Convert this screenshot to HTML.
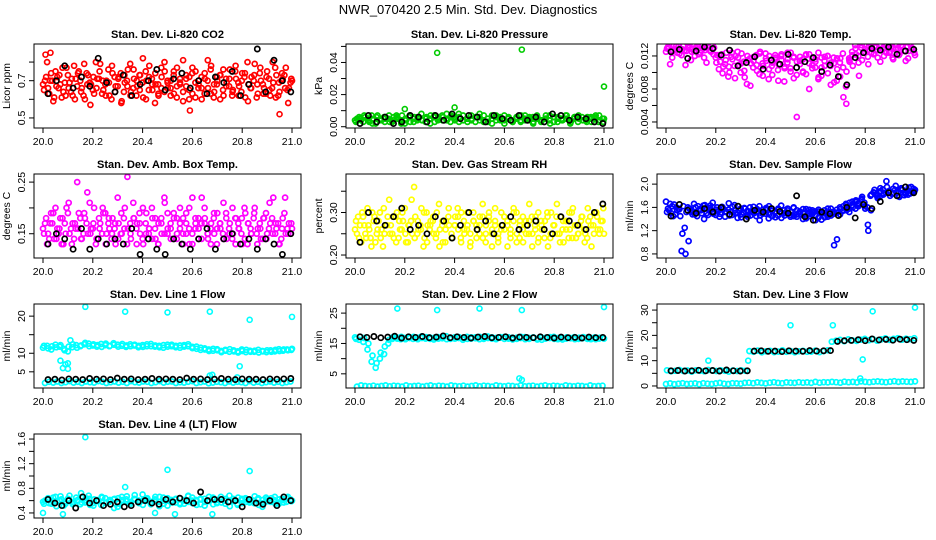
<!DOCTYPE html>
<html><head><meta charset="utf-8"><style>
html,body{margin:0;padding:0;background:#fff;}
svg{display:block;font-family:"Liberation Sans",Arial,sans-serif;}
</style></head><body>
<svg id="chart" width="936" height="540" viewBox="0 0 936 540">
<rect x="0" y="0" width="936" height="540" fill="#fff"/>
<text x="468" y="14" text-anchor="middle" font-size="13">NWR_070420  2.5 Min. Std. Dev. Diagnostics</text>
</svg>
<script>
const xTicks=[20.0,20.2,20.4,20.6,20.8,21.0];
const xTickLabels=["20.0","20.2","20.4","20.6","20.8","21.0"];

const co2Red1=[.68,.72,.63,.70,.75,.66,.61,.69,.73,.64,.78,.67,.70,.62,.74,.69,.65,.80,.71,.63,.68,.76,.60,.72,.67,.74,.64,.70,.79,.66,.62,.73,.69,.75,.65,.71,.58,.68,.77,.64,.70,.66,.73,.61,.69,.81,.67,.72,.63,.75,.68,.60,.71,.66,.78,.64,.70,.73,.62,.69,.76,.65,.71,.67,.74,.61,.68,.72,.79,.63,.70,.66,.75,.62,.69,.73,.64,.71,.77,.66,.70];
const co2Red2=[.65,.80,.70,.59,.67,.73,.77,.62,.66,.71,.60,.74,.64,.79,.68,.57,.72,.66,.75,.70,.62,.69,.78,.64,.71,.58,.73,.67,.62,.76,.70,.65,.82,.60,.72,.68,.74,.63,.66,.80,.69,.62,.75,.67,.71,.59,.73,.65,.77,.61,.70,.66,.74,.81,.63,.68,.72,.60,.76,.67,.71,.64,.78,.62,.70,.74,.59,.66,.73,.68,.77,.63,.72,.65,.80,.61,.69,.74,.66,.58,.71];
const co2Red3=[.70,.66,.74,.61,.72,.68,.64,.77,.69,.62,.71,.75,.66,.60,.73,.68,.63,.71,.79,.65,.70,.62,.74,.67,.72,.59,.69,.76,.64,.71,.67,.73,.61,.70,.78,.65,.68,.62,.72,.75,.66,.70,.63,.77,.68,.64,.71,.60,.74,.69,.66,.72,.63,.70,.76,.61,.68,.73,.65,.71,.67,.62,.75,.69,.64,.72,.80,.66,.70,.61,.74,.68,.63,.71,.66,.77,.62,.70,.73,.65,.69];
const co2Black=[.63,.70,.78,.66,.72,.67,.82,.69,.64,.73,.62,.68,.70,.76,.65,.71,.74,.66,.70,.63,.72,.69,.75,.62,.68,.87,.64,.81,.70,.64];
const co2OutT=[20.01,20.03,20.33,20.67,21.0,20.59,20.95];
const co2OutV=[.84,.85,.43,.43,.42,.54,.52];

const presGreen1=[.004,.006,.003,.005,.007,.002,.004,.006,.005,.003,.007,.004,.002,.006,.005,.004,.008,.003,.005,.006,.004,.007,.005,.003,.006,.008,.004,.005,.007,.003,.006,.004,.005,.002,.007,.005,.004,.006,.003,.005,.007,.004,.006,.003,.005,.004,.007,.002,.006,.005,.004,.007,.003,.006,.005,.004,.006,.003,.007,.004,.005];
const presGreen2=[.003,.005,.007,.004,.002,.006,.005,.003,.007,.004,.006,.002,.005,.007,.003,.006,.004,.005,.002,.007,.006,.004,.008,.006,.004,.003,.007,.005,.004,.006,.008,.003,.005,.007,.004,.006,.002,.005,.003,.006,.004,.007,.005,.002,.006,.004,.005,.007,.003,.006,.004,.005,.002,.006,.007,.004,.003,.006,.005,.007,.003];
const presGreen3=[.005,.004,.006,.003,.005,.007,.004,.005,.003,.006,.005,.007,.004,.003,.006,.005,.004,.006,.007,.003,.005,.006,.004,.007,.005,.006,.004,.003,.005,.006,.004,.007,.003,.005,.006,.004,.007,.005,.004,.006,.003,.005,.004,.006,.007,.003,.005,.004,.006,.003,.005,.007,.004,.005,.003,.006,.004,.005,.006,.003,.005];
const presBlack=[.002,.007,.003,.006,.002,.003,.007,.006,.003,.007,.004,.008,.005,.007,.006,.003,.007,.005,.004,.007,.004,.006,.003,.008,.007,.004,.006,.005,.003,.002];
const presOutT=[20.33,20.67,21.0,20.4,20.2];
const presOutV=[.046,.048,.025,.012,.011];

const tempMag1=[.0125,.0130,.0118,.0128,.0132,.0121,.0127,.0130,.0115,.0126,.0131,.0124,.0129,.0112,.0127,.0133,.0118,.0104,.0122,.0110,.0095,.0119,.0108,.0125,.0100,.0113,.0086,.0117,.0106,.0121,.0098,.0111,.0123,.0092,.0108,.0116,.0103,.0120,.0089,.0112,.0105,.0118,.0097,.0114,.0101,.0122,.0080,.0109,.0116,.0094,.0106,.0119,.0099,.0112,.0088,.0104,.0117,.0070,.0101,.0113,.0108,.0122,.0096,.0115,.0128,.0110,.0124,.0131,.0118,.0127,.0120,.0133,.0125,.0116,.0129,.0122,.0131,.0114,.0126,.0130,.0121];
const tempMag2=[.0129,.0110,.0126,.0132,.0123,.0128,.0109,.0131,.0125,.0120,.0133,.0127,.0118,.0130,.0126,.0122,.0112,.0121,.0099,.0115,.0107,.0124,.0093,.0118,.0111,.0102,.0120,.0084,.0114,.0109,.0123,.0096,.0117,.0104,.0112,.0121,.0090,.0115,.0107,.0124,.0101,.0119,.0046,.0110,.0116,.0098,.0122,.0105,.0113,.0092,.0118,.0108,.0120,.0085,.0111,.0117,.0095,.0106,.0062,.0115,.0121,.0129,.0112,.0133,.0125,.0119,.0131,.0123,.0127,.0113,.0130,.0124,.0132,.0118,.0128,.0121,.0133,.0126,.0117,.0129,.0124];
const tempMag3=[.0131,.0127,.0133,.0124,.0129,.0132,.0126,.0133,.0128,.0130,.0122,.0133,.0127,.0131,.0125,.0130,.0121,.0113,.0107,.0124,.0100,.0116,.0120,.0109,.0123,.0094,.0115,.0111,.0119,.0102,.0125,.0108,.0114,.0120,.0097,.0118,.0110,.0122,.0105,.0116,.0124,.0093,.0113,.0119,.0100,.0121,.0111,.0117,.0106,.0124,.0096,.0114,.0120,.0108,.0118,.0090,.0112,.0123,.0083,.0117,.0125,.0133,.0120,.0130,.0134,.0127,.0133,.0122,.0131,.0134,.0128,.0133,.0124,.0132,.0134,.0129,.0133,.0126,.0131,.0134,.0128];
const tempBlack=[.0125,.0128,.0117,.0126,.0131,.0129,.0121,.0127,.0108,.0112,.0119,.0104,.0115,.0110,.0122,.0106,.0113,.0118,.0101,.0109,.0095,.0085,.0118,.0124,.0129,.0127,.0131,.0122,.0126,.0128];

const ambMag1=[.16,.18,.14,.17,.20,.15,.13,.17,.19,.16,.14,.25,.18,.15,.17,.21,.16,.13,.18,.15,.19,.17,.14,.16,.22,.15,.18,.13,.17,.21,.16,.19,.14,.17,.15,.20,.16,.13,.18,.22,.15,.17,.19,.14,.16,.18,.15,.20,.13,.17,.16,.22,.18,.14,.17,.15,.19,.16,.21,.14,.17,.15,.18,.16,.13,.19,.17,.15,.20,.16,.14,.18,.15,.17,.22,.16,.13,.18,.15,.17,.16];
const ambMag2=[.15,.13,.17,.19,.14,.16,.18,.15,.21,.13,.17,.16,.14,.19,.23,.15,.17,.14,.16,.20,.13,.18,.15,.17,.14,.19,.16,.26,.15,.18,.13,.17,.20,.15,.16,.14,.18,.13,.17,.15,.19,.16,.14,.18,.20,.15,.17,.13,.22,.16,.18,.14,.17,.15,.13,.19,.16,.17,.14,.18,.15,.20,.13,.16,.18,.14,.17,.15,.19,.13,.16,.18,.14,.21,.15,.17,.13,.16,.22,.15,.17];
const ambMag3=[.17,.15,.19,.14,.16,.18,.13,.20,.15,.17,.16,.19,.14,.18,.15,.16,.20,.14,.17,.19,.15,.16,.18,.13,.17,.15,.20,.16,.14,.18,.17,.15,.13,.19,.16,.18,.14,.17,.15,.21,.16,.14,.18,.15,.17,.13,.19,.16,.15,.18,.14,.17,.20,.15,.16,.18,.13,.17,.15,.19,.16,.14,.18,.17,.15,.20,.13,.16,.18,.15,.17,.14,.19,.16,.18,.15,.17,.14,.19,.16,.15];
const ambBlack=[.13,.15,.14,.12,.16,.12,.14,.13,.14,.13,.16,.11,.14,.12,.11,.14,.13,.12,.14,.16,.12,.14,.15,.13,.14,.12,.14,.13,.11,.15];

const rhYel1=[.26,.29,.23,.27,.31,.24,.28,.25,.30,.22,.27,.33,.25,.29,.24,.26,.31,.23,.28,.36,.25,.27,.22,.30,.26,.28,.24,.32,.27,.23,.29,.25,.27,.31,.24,.28,.26,.22,.30,.27,.25,.29,.23,.28,.26,.31,.24,.27,.29,.22,.26,.30,.25,.28,.23,.27,.32,.25,.29,.24,.26,.28,.22,.30,.27,.25,.29,.23,.28,.26,.31,.24,.27,.29,.25,.28,.22,.30,.26,.28,.25];
const rhYel2=[.28,.24,.30,.25,.27,.22,.29,.26,.24,.31,.27,.25,.29,.23,.28,.30,.25,.27,.33,.24,.28,.26,.30,.23,.27,.29,.25,.22,.28,.26,.31,.24,.27,.29,.23,.26,.30,.25,.28,.24,.27,.32,.25,.29,.22,.27,.25,.30,.26,.28,.24,.31,.23,.27,.29,.25,.28,.22,.26,.30,.27,.24,.29,.25,.27,.32,.23,.28,.26,.30,.24,.27,.25,.29,.23,.31,.27,.25,.29,.26,.31];
const rhYel3=[.25,.27,.29,.24,.26,.30,.23,.28,.26,.25,.29,.27,.24,.30,.26,.28,.23,.27,.25,.29,.26,.31,.24,.27,.28,.25,.30,.26,.23,.28,.27,.24,.29,.26,.30,.25,.27,.23,.28,.26,.29,.24,.27,.30,.25,.28,.23,.26,.29,.27,.25,.28,.30,.24,.26,.28,.25,.29,.27,.23,.28,.26,.30,.24,.27,.29,.25,.26,.28,.24,.30,.27,.25,.28,.26,.24,.29,.27,.30,.25,.28];
const rhBlack=[.23,.30,.28,.27,.29,.31,.26,.27,.25,.29,.28,.24,.27,.30,.26,.28,.25,.27,.29,.26,.27,.28,.26,.25,.29,.28,.27,.26,.30,.32];

const flowBlue1=[1.70,1.55,1.62,1.48,1.58,0.85,1.25,1.60,1.52,1.66,1.45,1.57,1.63,1.50,1.59,1.68,1.47,1.55,1.61,1.44,1.56,1.53,1.64,1.42,1.58,1.51,1.47,1.60,1.54,1.45,1.62,1.49,1.56,1.41,1.58,1.52,1.46,1.63,1.50,1.55,1.44,1.59,1.48,1.53,1.40,1.57,1.45,1.52,1.38,1.56,1.49,1.43,1.58,1.46,0.95,1.51,1.57,1.62,1.55,1.68,1.60,1.72,1.65,1.78,1.58,1.20,1.82,1.90,1.76,1.88,1.84,1.95,1.80,1.92,1.86,1.78,1.90,1.83,1.94,1.87,1.90];
const flowBlue2=[1.52,1.66,1.45,1.60,1.57,1.15,0.80,1.02,1.54,1.48,1.62,1.55,1.40,1.58,1.63,1.49,1.56,1.44,1.60,1.52,1.67,1.47,1.55,1.50,1.43,1.59,1.54,1.46,1.61,1.52,1.38,1.56,1.49,1.62,1.45,1.53,1.58,1.42,1.55,1.50,1.47,1.60,1.44,1.52,1.57,1.41,1.49,1.55,1.46,1.53,1.39,1.50,1.44,1.58,1.52,1.05,1.48,1.55,1.64,1.52,1.70,1.58,1.67,1.75,1.62,1.30,1.55,1.85,1.79,1.93,1.82,2.05,1.88,1.84,1.97,1.80,1.91,1.86,1.82,1.95,1.88];
const flowBlue3=[1.58,1.50,1.65,1.55,1.45,1.62,1.52,1.58,1.48,1.60,1.55,1.50,1.64,1.47,1.56,1.52,1.60,1.49,1.57,1.53,1.46,1.61,1.50,1.55,1.48,1.58,1.44,1.53,1.50,1.57,1.46,1.52,1.59,1.48,1.54,1.43,1.56,1.50,1.46,1.58,1.52,1.45,1.55,1.49,1.51,1.44,1.56,1.48,1.53,1.42,1.50,1.55,1.47,1.52,1.49,1.56,1.60,1.54,1.66,1.58,1.64,1.70,1.62,1.73,1.68,1.60,1.80,1.86,1.82,1.78,1.91,1.85,1.88,1.83,1.90,1.86,1.93,1.81,1.88,1.84,1.92];
const flowBlack=[1.45,1.65,1.55,1.50,1.58,1.52,1.60,1.48,1.62,1.40,1.55,1.52,1.58,1.53,1.50,1.80,1.44,1.38,1.52,1.49,1.46,1.60,1.42,1.65,1.58,1.70,1.85,1.80,1.95,1.85];

const l1Upper=[11.5,12,11,12.3,11.8,11.2,10.5,11.6,12.2,11.9,12.4,12.6,12.1,11.8,12.5,12.2,11.9,12.7,12.3,12.0,11.7,12.4,12.1,11.6,12.2,11.9,12.5,11.8,12.0,11.5,12.3,11.9,11.6,12.1,11.8,12.4,11.7,11.2,11.5,11.0,10.6,11.2,10.8,10.3,10.7,11.1,10.5,10.2,10.6,10.9,10.4,10.7,10.2,10.5,10.8,10.4,10.9,10.6,11.0,10.8,11.2];
const l1Upper2=[12.0,11.3,11.9,11.6,12.2,10.8,11.8,12.4,11.5,12.1,12.8,11.9,12.4,12.2,11.7,12.6,12.0,12.3,11.8,12.5,12.1,11.9,12.3,12.0,11.7,12.4,11.9,12.1,11.6,12.2,11.8,12.3,12.0,11.5,12.2,11.9,11.4,11.8,10.9,11.3,11.0,10.7,11.1,10.6,10.9,10.4,10.8,10.5,11.0,10.3,10.7,10.4,10.9,10.6,10.3,10.8,10.5,11.1,10.7,11.0,10.9];
const l1Lower=[2.0,2.3,2.1,2.4,2.0,2.2,2.5,2.1,2.3,2.0,2.4,2.2,2.1,2.5,2.3,2.0,2.2,2.4,2.1,2.3,2.0,2.5,2.2,2.1,2.4,2.3,2.0,2.2,2.5,2.1,2.3,2.4,2.0,2.2,2.1,2.3,2.5,2.0,2.2,2.4,1.9,2.1,2.3,2.2,2.0,2.4,2.1,2.3,2.2,2.0,2.5,2.1,2.3,2.0,2.2,2.4,2.1,2.3,2.0,2.2,2.4];
const l1Black=[2.9,3.0,2.8,3.1,3.0,2.9,3.2,3.0,3.1,2.9,3.3,3.0,3.1,2.9,3.0,3.2,3.0,3.1,3.0,2.9,3.3,3.0,3.1,2.9,3.0,3.2,3.0,2.9,3.1,3.0,3.0,2.9,3.1,3.0,3.1,3.2];
const l1OutT=[20.07,20.08,20.09,20.1,20.1,20.11,20.17,20.33,20.5,20.67,20.67,20.68,20.79,20.78,20.83,21.0];
const l1OutV=[8,6,7,5.8,7.3,13.5,22.5,21.2,21,21.2,4,4.2,6.5,3.5,19,19.8];

const l2Upper=[17,16.2,15.5,13,9,7,10,11.5,15,16.5,17,16.4,16.8,17.2,16.5,16.9,17.3,16.6,17,16.3,17.1,16.7,17.4,16.5,17,16.8,16.2,17.2,16.6,17,16.4,16.9,17.3,16.6,16.8,17.1,16.5,17,16.3,16.9,17.2,16.4,16.8,17,16.6,16.2,16.9,17.1,16.5,16.8,16.3,17,16.7,16.4,16.9,17.1,16.5,16.8,16.4,16.9,16.6];
const l2Upper2=[16.5,17.2,16.8,15,11,8.5,12,14,16.2,17.1,16.6,17.2,16.4,16.8,17.2,16.4,16.8,17.1,16.5,16.9,16.6,17.2,16.4,16.9,16.6,17.1,16.8,16.5,17.0,16.7,17.2,16.5,16.8,17.0,16.4,16.9,17.2,16.6,16.9,16.5,16.8,17.1,16.5,16.9,16.3,17.0,16.6,16.8,17.2,16.4,16.9,16.6,16.8,17.1,16.5,16.7,16.9,16.4,17.0,16.6,16.8];
const l2Lower=[0.8,1.2,1.0,0.9,1.1,0.8,1.0,1.2,0.9,1.1,1.0,0.8,1.2,0.9,1.0,1.1,0.8,1.0,1.2,0.9,1.1,1.0,0.8,1.2,1.0,0.9,1.1,0.8,1.0,1.2,0.9,1.1,1.0,0.8,1.2,1.0,0.9,1.1,1.0,0.8,1.2,0.9,1.0,1.1,0.8,1.0,1.2,0.9,1.1,1.0,0.8,1.2,1.0,0.9,1.1,1.0,0.8,1.2,0.9,1.0,1.1];
const l2Black=[17.2,17.0,17.3,16.9,17.1,17.4,16.8,17.2,17.0,17.3,16.9,17.1,17.5,16.9,17.2,17.0,16.8,17.1,17.3,16.9,17.0,17.2,16.8,17.1,17.0,16.9,17.2,17.0,16.8,17.1,16.9,17.0,16.8,17.1,16.9,17.0];
const l2OutT=[20.17,20.33,20.5,20.67,21.0,20.66,20.67];
const l2OutV=[26.5,26,26.5,26,27,3.5,3];

const l3Lower=[0.8,1.0,0.7,0.9,1.1,0.8,0.9,1.0,0.7,1.1,0.9,0.8,1.0,1.2,0.9,0.8,1.1,1.0,0.9,1.2,1.3,1.1,1.4,1.2,1.0,1.3,1.5,1.2,1.1,1.4,1.3,1.2,1.5,1.3,1.4,1.2,1.6,1.3,1.5,1.4,1.6,1.5,1.3,1.7,1.5,1.6,1.4,1.8,1.6,1.5,1.7,1.8,1.6,1.5,1.7,1.9,1.6,1.8,1.7,1.6,1.8];
const l3Upper=[6.2,5.8,6.0,6.3,5.9,6.1,5.7,6.2,6.0,5.8,6.3,6.1,5.9,6.2,6.0,5.7,6.1,5.9,6.2,6.0,13.8,13.5,14.0,13.3,13.7,13.9,13.4,13.6,14.1,13.5,13.8,13.3,13.7,13.9,13.5,13.6,14.0,13.4,13.8,14.1,17.5,17.9,18.2,17.7,18.4,18.0,17.8,18.3,18.6,18.1,18.5,17.9,18.4,18.8,18.2,18.6,18.9,18.3,18.7,18.5,18.9];
const l3Black=[6.0,6.1,5.9,6.0,6.2,6.0,6.1,5.9,6.3,6.0,5.9,6.0,13.8,13.9,13.7,13.8,13.6,13.9,13.8,13.7,14.0,13.8,13.9,14.0,17.6,17.9,18.0,18.3,17.9,18.6,18.2,18.4,18.1,18.5,18.3,18.0];
const l3OutT=[20.17,20.33,20.5,20.67,20.79,20.78,20.83,21.0];
const l3OutV=[10,10,24,24,10.5,3,29.5,31];

const l4Cyan1=[.58,.62,.55,.66,.60,.52,.63,.57,.65,.54,.60,.68,.56,.61,.53,.64,.58,.62,.50,.66,.59,.55,.63,.57,.70,.60,.54,.62,.58,.65,.52,.61,.57,.64,.55,.68,.60,.53,.62,.58,.66,.54,.61,.57,.63,.51,.60,.65,.56,.62,.58,.67,.53,.61,.59,.64,.55,.62,.57,.66,.60];
const l4Cyan2=[.55,.64,.60,.51,.67,.58,.62,.54,.60,.72,.57,.63,.52,.59,.66,.56,.61,.48,.64,.58,.62,.55,.69,.60,.53,.63,.58,.66,.51,.60,.64,.57,.62,.54,.61,.67,.56,.59,.63,.52,.60,.65,.57,.62,.55,.68,.59,.53,.63,.58,.61,.56,.64,.50,.62,.58,.66,.55,.61,.64,.59];
const l4Cyan3=[.60,.56,.65,.59,.62,.55,.68,.58,.61,.57,.64,.53,.62,.59,.65,.57,.60,.63,.55,.61,.67,.58,.62,.56,.60,.64,.57,.61,.66,.55,.62,.59,.63,.56,.60,.58,.65,.61,.54,.63,.59,.62,.56,.66,.60,.58,.63,.55,.61,.64,.57,.60,.62,.56,.65,.59,.61,.57,.63,.58,.62];
const l4Black=[.62,.56,.52,.60,.48,.66,.56,.60,.52,.54,.58,.50,.52,.58,.60,.56,.54,.62,.58,.64,.60,.56,.74,.60,.62,.62,.58,.60,.50,.62,.56,.54,.60,.52,.66,.60];
const l4OutT=[20.17,20.5,20.83,20.33,20.0,20.08,20.45,20.53,20.68];
const l4OutV=[1.63,1.1,1.08,.82,.4,.38,.4,.38,.38];

const NS="http://www.w3.org/2000/svg";
const svg=document.getElementById('chart');
function mk(tag,attrs,parent){const e=document.createElementNS(NS,tag);for(const k in attrs)e.setAttribute(k,attrs[k]);(parent||svg).appendChild(e);return e;}

const colX=[34,346,657], rowY=[44,174,304,434], W=267, H=84;

function panel(o){
  const L=colX[o.col],T=rowY[o.row];
  const g=mk('g',{});
  
  
  const xs=t=>L+9+(t-20)*(W-18);
  const ys=v=>T+H-(v-o.y0)/(o.y1-o.y0)*H;
  const clip='c'+o.name;
  const cp=mk('clipPath',{id:clip},g);mk('rect',{x:L,y:T,width:W,height:H},cp);
  const pg=mk('g',{'clip-path':'url(#'+clip+')'},g);
  function series(vals,color,r,sw,t0,t1,nm){
    const sg=mk('g',{},pg);
    
    
    vals.forEach((v,i)=>{const t=t0+(t1-t0)*i/(vals.length-1);
      const c=mk('circle',{cx:xs(t).toFixed(1),cy:ys(v).toFixed(1),r:r,fill:'none',stroke:color,'stroke-width':sw},sg);
      
      });
  }
  o.color_series.forEach((s,k)=>series(s,o.color,2.5,1.7,20+k*0.004,21-k*0.003,'colored-series'));
  if(o.outT){const sg=mk('g',{},pg);
    
    
    o.outT.forEach((t,i)=>{const c=mk('circle',{cx:xs(t),cy:ys(o.outV[i]),r:2.5,fill:'none',stroke:o.color,'stroke-width':1.6},sg);
      
      });}
  series(o.black,'#000',2.6,1.7,20.02,20.995,'black-series');
  const box=mk('rect',{x:L,y:T,width:W,height:H,fill:'none',stroke:'#000','stroke-width':1},g);
  
  
  const xa=mk('g',{},g);
  
  
  xTicks.forEach((t,i)=>{mk('line',{x1:xs(t),x2:xs(t),y1:T+H,y2:T+H+5,stroke:'#000'},xa);
    const tx=mk('text',{x:xs(t),y:T+H+17,'text-anchor':'middle','font-size':10.5},xa);tx.textContent=xTickLabels[i];
    
    });
  const ya=mk('g',{},g);
  
  
  o.yt.forEach(v=>{mk('line',{x1:L-5,x2:L,y1:ys(v),y2:ys(v),stroke:'#000'},ya);});
  o.yl.forEach((lab,i)=>{const y=ys(o.ylv[i]);const tx=mk('text',{x:L-9,y:y,'text-anchor':'middle','font-size':10.5,transform:'rotate(-90 '+(L-9)+' '+y+')'},ya);tx.textContent=lab;
    
    });
  const yt=mk('text',{x:L-24,y:T+H/2,'text-anchor':'middle','font-size':10.5,transform:'rotate(-90 '+(L-24)+' '+(T+H/2)+')'},g);yt.textContent=o.ylab;
  
  
  const ti=mk('text',{x:L+W/2,y:T-6,'text-anchor':'middle','font-size':11,'font-weight':'bold'},g);ti.textContent=o.title;
  
  
}

panel({name:'co2-panel',col:0,row:0,title:'Stan. Dev. Li-820 CO2',ylab:'Licor ppm',color:'#ff0000',y0:.446,y1:.897,yt:[.5,.6,.7,.8],yl:['0.5','0.7'],ylv:[.5,.7],color_series:[co2Red1,co2Red2,co2Red3],black:co2Black,outT:co2OutT,outV:co2OutV});
panel({name:'pressure-panel',col:1,row:0,title:'Stan. Dev. Li-820 Pressure',ylab:'kPa',color:'#00cc00',y0:-.0008,y1:.0515,yt:[0,.01,.02,.03,.04,.05],yl:['0.00','0.02','0.04'],ylv:[0,.02,.04],color_series:[presGreen1,presGreen2,presGreen3],black:presBlack,outT:presOutT,outV:presOutV});
panel({name:'li820-temp-panel',col:2,row:0,title:'Stan. Dev. Li-820 Temp.',ylab:'degrees C',color:'#ff00ff',y0:.00327,y1:.01345,yt:[.004,.006,.008,.010,.012],yl:['0.004','0.008','0.012'],ylv:[.004,.008,.012],color_series:[tempMag1,tempMag2,tempMag3],black:tempBlack});
panel({name:'amb-box-temp-panel',col:0,row:1,title:'Stan. Dev. Amb. Box Temp.',ylab:'degrees C',color:'#ff00ff',y0:.103,y1:.2657,yt:[.15,.2,.25],yl:['0.15','0.25'],ylv:[.15,.25],color_series:[ambMag1,ambMag2,ambMag3],black:ambBlack});
panel({name:'gas-rh-panel',col:1,row:1,title:'Stan. Dev. Gas Stream RH',ylab:'percent',color:'#ffff00',y0:.193,y1:.3905,yt:[.2,.25,.3,.35],yl:['0.20','0.30'],ylv:[.2,.3],color_series:[rhYel1,rhYel2,rhYel3],black:rhBlack});
panel({name:'sample-flow-panel',col:2,row:1,title:'Stan. Dev. Sample Flow',ylab:'ml/min',color:'#0000ff',y0:.73,y1:2.174,yt:[.8,1.2,1.6,2.0],yl:['0.8','1.2','1.6','2.0'],ylv:[.8,1.2,1.6,2.0],color_series:[flowBlue1,flowBlue2,flowBlue3],black:flowBlack});
panel({name:'line1-flow-panel',col:0,row:2,title:'Stan. Dev. Line 1 Flow',ylab:'ml/min',color:'#00ffff',y0:.64,y1:23.27,yt:[5,10,15,20],yl:['5','10','20'],ylv:[5,10,20],color_series:[l1Upper,l1Upper2,l1Lower],black:l1Black,outT:l1OutT,outV:l1OutV});
panel({name:'line2-flow-panel',col:1,row:2,title:'Stan. Dev. Line 2 Flow',ylab:'ml/min',color:'#00ffff',y0:.33,y1:28,yt:[5,10,15,20,25],yl:['5','15','25'],ylv:[5,15,25],color_series:[l2Upper,l2Upper2,l2Lower],black:l2Black,outT:l2OutT,outV:l2OutV});
panel({name:'line3-flow-panel',col:2,row:2,title:'Stan. Dev. Line 3 Flow',ylab:'ml/min',color:'#00ffff',y0:-.8,y1:32.4,yt:[0,5,10,15,20,25,30],yl:['0','10','20','30'],ylv:[0,10,20,30],color_series:[l3Lower,l3Upper],black:l3Black,outT:l3OutT,outV:l3OutV});
panel({name:'line4-flow-panel',col:0,row:3,title:'Stan. Dev. Line 4 (LT) Flow',ylab:'ml/min',color:'#00ffff',y0:.318,y1:1.682,yt:[.4,.6,.8,1.0,1.2,1.4,1.6],yl:['0.4','0.8','1.2','1.6'],ylv:[.4,.8,1.2,1.6],color_series:[l4Cyan1,l4Cyan2,l4Cyan3],black:l4Black,outT:l4OutT,outV:l4OutV});
</script>
</body></html>
